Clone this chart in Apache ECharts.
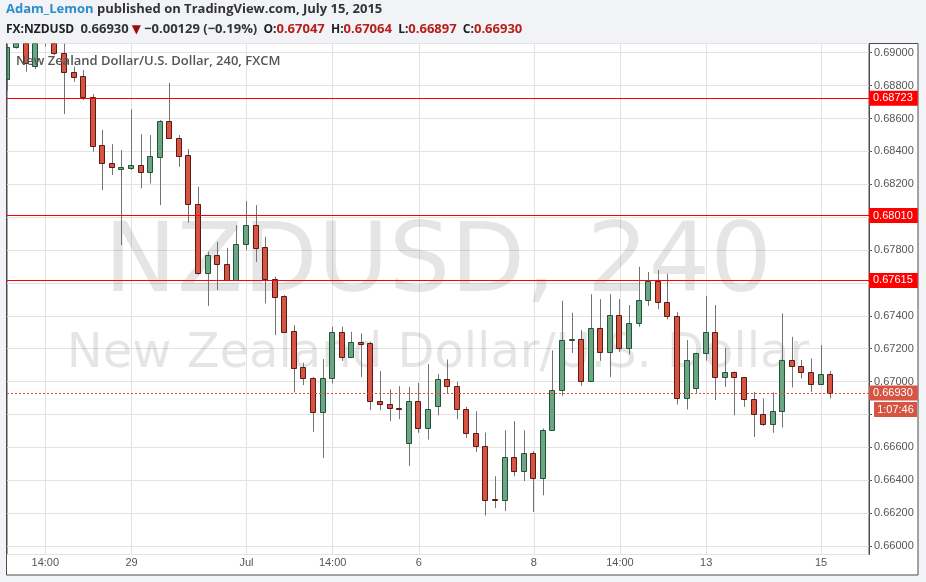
<!DOCTYPE html>
<html>
<head>
<meta charset="utf-8">
<script src="https://cdn.jsdelivr.net/npm/echarts@6/dist/echarts.min.js"></script>
<style>
html,body{margin:0;padding:0;background:#f1f3f6;}
#c{width:926px;height:582px;}
</style>
</head>
<body>
<div id="c"></div>
<script>
// ---- data (4h candles, NZDUSD) ----
const opens = [
  0.68838,0.69033,0.69100,0.68920,0.69080,0.69070,0.68996,0.68881,0.68856,0.68729,
  0.68437,0.68327,0.68290,0.68300,0.68315,0.68276,0.68367,0.68584,0.68479,0.68377,
  0.68078,0.67658,0.67767,0.67712,0.67617,0.67834,0.67951,0.67818,0.67623,0.67519,
  0.67306,0.67086,0.67019,0.66812,0.67019,0.67299,0.67152,0.67238,0.67232,0.66881,
  0.66866,0.66842,0.66629,0.66879,0.66720,0.66854,0.67013,0.66970,0.66836,0.66690,
  0.66605,0.66284,0.66282,0.66538,0.66453,0.66568,0.66416,0.66708,0.66946,0.67250,
  0.67256,0.67006,0.67323,0.67177,0.67402,0.67207,0.67353,0.67493,0.67609,0.67481,
  0.67396,0.66897,0.66958,0.67171,0.67300,0.67028,0.67061,0.67025,0.66891,0.66800,
  0.66739,0.66818,0.67128,0.67092,0.67055,0.66988,0.67047
];
const highs = [
  0.69060,0.69130,0.69110,0.69090,0.69130,0.69080,0.69060,0.68915,0.68895,0.68749,
  0.68530,0.68444,0.68408,0.68656,0.68505,0.68499,0.68590,0.68817,0.68499,0.68414,
  0.68185,0.67789,0.67850,0.67813,0.67951,0.68097,0.68073,0.67880,0.67637,0.67525,
  0.67343,0.67114,0.67028,0.67136,0.67333,0.67333,0.67302,0.67292,0.67242,0.67063,
  0.66952,0.66972,0.66968,0.66992,0.67106,0.67045,0.67134,0.66998,0.66846,0.66819,
  0.66690,0.66424,0.66704,0.66759,0.66704,0.66576,0.66714,0.67189,0.67491,0.67418,
  0.67313,0.67531,0.67501,0.67531,0.67501,0.67465,0.67698,0.67666,0.67678,0.67655,
  0.67422,0.67252,0.67175,0.67519,0.67465,0.67205,0.67061,0.67025,0.66937,0.66897,
  0.66933,0.67414,0.67272,0.67131,0.67140,0.67221,0.67064
];
const lows = [
  0.68769,0.69025,0.68884,0.68900,0.69037,0.68986,0.68627,0.68824,0.68712,0.68398,
  0.68164,0.68256,0.67830,0.68286,0.68175,0.68205,0.68073,0.68479,0.68306,0.67966,
  0.67650,0.67460,0.67556,0.67615,0.67615,0.67799,0.67728,0.67475,0.67282,0.67300,
  0.66933,0.66978,0.66694,0.66535,0.66988,0.67126,0.67150,0.67028,0.66826,0.66826,
  0.66759,0.66771,0.66487,0.66688,0.66647,0.66795,0.66927,0.66771,0.66657,0.66572,
  0.66185,0.66231,0.66213,0.66424,0.66395,0.66207,0.66308,0.66700,0.66913,0.67174,
  0.66974,0.67000,0.67126,0.67028,0.67180,0.67165,0.67333,0.67460,0.67440,0.67378,
  0.66860,0.66830,0.66931,0.67126,0.66887,0.66967,0.66795,0.66846,0.66663,0.66730,
  0.66688,0.66720,0.66964,0.67019,0.66937,0.66978,0.66897
];
const closes = [
  0.69033,0.69100,0.68939,0.69080,0.69070,0.68996,0.68881,0.68854,0.68729,0.68434,
  0.68327,0.68306,0.68304,0.68315,0.68276,0.68371,0.68584,0.68479,0.68373,0.68078,
  0.67658,0.67767,0.67712,0.67617,0.67836,0.67951,0.67813,0.67621,0.67515,0.67302,
  0.67083,0.67019,0.66812,0.67019,0.67299,0.67152,0.67238,0.67229,0.66879,0.66864,
  0.66840,0.66834,0.66879,0.66720,0.66836,0.67013,0.66970,0.66836,0.66690,0.66605,
  0.66282,0.66280,0.66538,0.66453,0.66568,0.66416,0.66708,0.66946,0.67250,0.67256,
  0.67006,0.67323,0.67177,0.67402,0.67207,0.67353,0.67493,0.67609,0.67481,0.67396,
  0.66897,0.67134,0.67171,0.67300,0.67028,0.67061,0.67025,0.66891,0.66800,0.66739,
  0.66818,0.67128,0.67092,0.67055,0.66988,0.67043,0.66930
];
const xLabelIndex = [4, 13, 25, 34, 43, 55, 64, 73, 85];
const xLabelText  = ['14:00', '29', 'Jul', '14:00', '6', '8', '14:00', '13', '15'];
const slotCount = 91; // candles + empty slots on the right
const levelLines = [0.68723, 0.68010, 0.67615];
const lastPrice = 0.66930;
const countdown = '1:07:46';
const headerUser = 'Adam_Lemon';
const headerPublished = 'published on TradingView.com, July 15, 2015';
const headerSymbol = 'FX:NZDUSD';
const headerChange = '\u22120.00129 (\u22120.19%)';
const headerO = '0.67047', headerH = '0.67064', headerL = '0.66897', headerC = '0.66930';
const chartTitle = 'New Zealand Dollar/U.S. Dollar, 240, FXCM';
const watermark1 = 'NZDUSD, 240';
const watermark2 = 'New Zealand Dollar/U.S. Dollar';

// ---- build ----
const categories = [];
for (let i = 0; i < slotCount; i++) {
  const k = xLabelIndex.indexOf(i);
  categories.push(k >= 0 ? xLabelText[k] : '');
}
const candleData = opens.map((o, i) => [i, o, closes[i], lows[i], highs[i]]);
const isLabelIdx = (idx) => xLabelIndex.indexOf(idx) >= 0;

const UP_FILL = '#6ba583', UP_LINE = '#225437';
const DN_FILL = '#d75442', DN_LINE = '#5b1a13';
const WICK = '#737375';

function renderCandle(params, api) {
  const i = api.value(0);
  const o = api.value(1), c = api.value(2), l = api.value(3), h = api.value(4);
  const pO = api.coord([i, o]), pC = api.coord([i, c]);
  const pL = api.coord([i, l]), pH = api.coord([i, h]);
  const cs = params.coordSys;
  const up = c >= o;
  const xc = Math.floor(pO[0]) + 0.5;
  const top = Math.min(pO[1], pC[1]), bot = Math.max(pO[1], pC[1]);
  let yT = Math.round(top) + 0.5;
  let yB = Math.round(bot) + 0.5;
  if (yB - yT < 1) yB = yT + 1;
  const children = [];
  const wy1 = Math.max(pH[1], cs.y), wy2 = Math.min(pL[1], cs.y + cs.height);
  if (wy2 > wy1) {
    children.push({type: 'line', shape: {x1: xc, y1: wy1, x2: xc, y2: wy2},
      style: {stroke: WICK, lineWidth: 1}});
  }
  const rect = echarts.graphic.clipRectByRect({x: xc - 3, y: yT, width: 5, height: yB - yT},
    {x: cs.x, y: cs.y, width: cs.width, height: cs.height});
  if (rect) {
    children.push({type: 'rect', shape: rect,
      style: {fill: up ? UP_FILL : DN_FILL, stroke: up ? UP_LINE : DN_LINE, lineWidth: 1}});
  }
  return {type: 'group', children: children};
}

const chart = echarts.init(document.getElementById('c'), null, {renderer: 'canvas'});
const AX_FONT = 'Liberation Sans';
const fmt5 = (v) => Number(v).toFixed(5);

const levelMarks = levelLines.map(v => ({
  yAxis: v,
  lineStyle: {color: '#ff0000', width: 1, type: 'solid'},
  label: {backgroundColor: '#ff0000'}
}));
levelMarks.push({
  yAxis: lastPrice,
  lineStyle: {color: '#e8432f', width: 1, type: [2, 2]},
  label: {backgroundColor: '#d75442'}
});

const option = {
  animation: false,
  backgroundColor: '#f1f3f6',
  title: [
    {
      left: 6, top: 3, padding: 0,
      text: '{u|' + headerUser + '} {p|' + headerPublished + '}',
      textStyle: {
        fontFamily: 'Open Sans', fontSize: 13,
        rich: {
          u: {color: '#2a8dcc', fontSize: 13, fontFamily: 'Open Sans'},
          p: {color: '#333333', fontSize: 13, fontFamily: 'Open Sans'}
        }
      }
    },
    {
      left: 6, top: 23, padding: 0,
      text: '{b|' + headerSymbol + '}  {n|' + headerC + '} {d|\u25BC} {n|' + headerChange + '}  ' +
            '{b|O:}{r|' + headerO + '}  {b|H:}{r|' + headerH + '}  {b|L:}{r|' + headerL + '}  {b|C:}{r|' + headerC + '}',
      textStyle: {
        fontFamily: 'Open Sans', fontSize: 12, color: '#333',
        rich: {
          b: {color: '#222', fontSize: 12, fontWeight: 'bold', fontFamily: 'Open Sans'},
          n: {color: '#333', fontSize: 13, fontFamily: 'Open Sans'},
          d: {color: '#9b0d0d', fontSize: 12, fontFamily: 'DejaVu Sans'},
          r: {color: '#b5201a', fontSize: 13, fontFamily: 'Open Sans'}
        }
      }
    }
  ],
  grid: {
    left: 7, top: 43.5, width: 862, height: 511,
    show: true, borderColor: '#4d4d4d', borderWidth: 1, backgroundColor: 'transparent'
  },
  xAxis: {
    type: 'category',
    data: categories,
    boundaryGap: false,
    axisLine: {show: false},
    axisTick: {show: false},
    axisLabel: {
      interval: (idx) => isLabelIdx(idx),
      color: '#555', fontSize: 11, fontFamily: AX_FONT, margin: 3
    },
    splitLine: {
      show: true,
      interval: (idx) => isLabelIdx(idx),
      lineStyle: {color: '#e3e3e3', width: 1}
    }
  },
  yAxis: {
    type: 'value',
    position: 'right',
    min: 0.65948,
    max: 0.69056,
    splitNumber: 15,
    axisLine: {show: true, lineStyle: {color: '#4d4d4d'}},
    axisTick: {show: true, length: 3, lineStyle: {color: '#555'}},
    axisLabel: {
      formatter: fmt5, color: '#555', fontSize: 11, fontFamily: AX_FONT, margin: 5,
      showMinLabel: false, showMaxLabel: false
    },
    splitLine: {show: true, lineStyle: {color: '#e3e3e3', width: 1}}
  },
  series: [
    {
      type: 'custom',
      name: 'NZDUSD',
      z: 2,
      clip: true,
      renderItem: renderCandle,
      encode: {x: 0, y: [1, 2, 3, 4]},
      data: candleData
    },
    {
      type: 'line',
      name: 'levels',
      z: 5,
      data: [],
      silent: true,
      markLine: {
        silent: true,
        precision: 5,
        symbol: ['none', 'none'],
        animation: false,
        label: {
          show: true, position: 'end', distance: 0,
          formatter: (p) => fmt5(p.value),
          color: '#fff', fontSize: 11, fontFamily: AX_FONT,
          padding: [2, 5, 2, 4], lineHeight: 11
        },
        data: levelMarks
      }
    }
  ]
};
chart.setOption(option);

const yLast = chart.convertToPixel({yAxisIndex: 0}, lastPrice);
chart.setOption({
  graphic: [
    {type: 'rect', z: -10, silent: true,
     shape: {x: 6.5, y: 43.5, width: 911.5, height: 531.5},
     style: {fill: '#ffffff', stroke: '#4d4d4d', lineWidth: 1}},
    {type: 'text', z: 1, silent: true, x: 438, y: 266,
     style: {text: watermark1, fontSize: 97, fontFamily: 'DejaVu Sans', fill: 'rgba(0,0,0,0.1)',
             align: 'center', verticalAlign: 'middle'}},
    {type: 'text', z: 1, silent: true, x: 438, y: 355,
     style: {text: watermark2, fontSize: 48, fontFamily: 'DejaVu Sans', fill: 'rgba(0,0,0,0.1)',
             align: 'center', verticalAlign: 'middle'}},
    {type: 'text', z: 50, silent: true, x: 16, y: 61,
     style: {text: chartTitle, fontSize: 13, fontWeight: 600, fontFamily: 'Open Sans', fill: '#555',
             align: 'left', verticalAlign: 'middle'}},
    {type: 'rect', z: 50, silent: true,
     shape: {x: 874, y: Math.round(yLast) + 9, width: 43, height: 15},
     style: {fill: '#d75442'}},
    {type: 'text', z: 51, silent: true, x: 895.5, y: Math.round(yLast) + 16.5,
     style: {text: countdown, fontSize: 11, fontFamily: AX_FONT, fill: '#fff',
             align: 'center', verticalAlign: 'middle'}}
  ]
});
</script>
</body>
</html>
